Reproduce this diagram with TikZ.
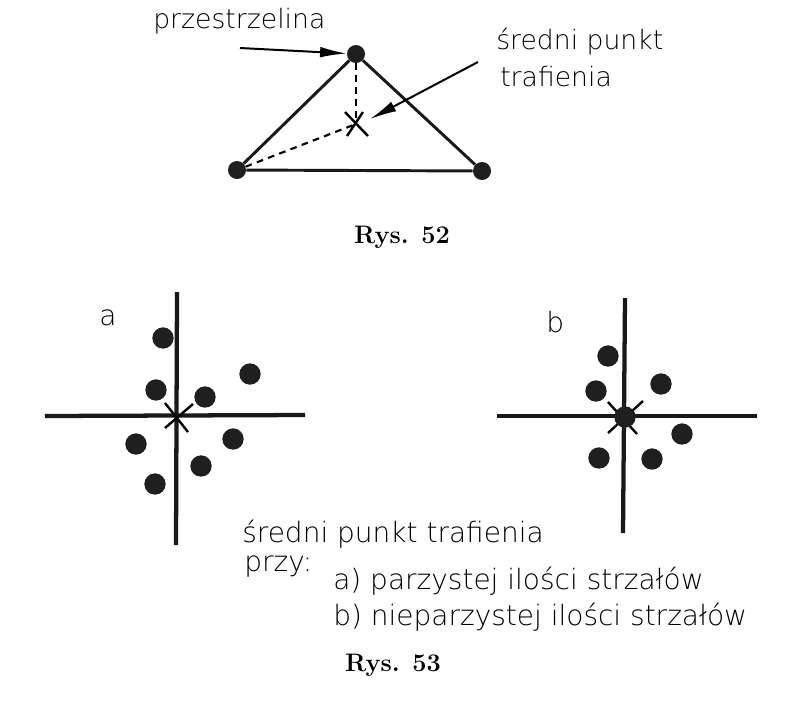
\documentclass[tikz,border=0pt]{standalone}
\usepackage{fontspec}
\newfontfamily\lett{DejaVu Sans}[UprightFont=* ExtraLight]
\usetikzlibrary{arrows.meta,calc}
\begin{document}
\begin{tikzpicture}[x=0.75pt,y=-0.75pt,
  dot/.style={circle,fill=black!88,inner sep=0pt,minimum size=16pt},
  tdot/.style={circle,fill=black!88,inner sep=0pt,minimum size=13.5pt},
  axis/.style={line width=3.2pt,black!90},
  edge/.style={line width=2.2pt,black!90},
  crs/.style={line width=1.8pt,black},
  dsh/.style={line width=1.6pt,dash pattern=on 5pt off 4pt},
  pointer/.style={line width=1.5pt,-{Latex[length=20pt,width=8pt]}},
  lab/.style={font=\lett\fontsize{20}{24}\selectfont,inner sep=0pt,anchor=mid west},
  lab2/.style={font=\lett\fontsize{21}{25}\selectfont,inner sep=0pt,anchor=mid west},
  figcap/.style={font=\bfseries\fontsize{19}{22}\selectfont,inner sep=0pt}]
\useasboundingbox[fill=white] (0,0) rectangle (810,719);

% ---------- Rys. 52 ----------
\node[tdot] (T) at (356,54) {};
\node[tdot] (BL) at (237,170) {};
\node[tdot] (BR) at (482,171) {};
\coordinate (C) at (356,124);
\draw[edge] (BL) -- (T) -- (BR) -- (BL);
\draw[dsh] (T) -- (C);
\draw[dsh] (BL) -- (C);
\draw[crs] ($(C)+(-11,-12)$) -- ($(C)+(12,12)$);
\draw[crs] ($(C)+(7,-12)$) -- ($(C)+(-9,12)$);

\node[lab] (przest) at (153,26) {przestrzelina};
\coordinate (a1) at (240,48);
\draw[pointer] (a1) -- (T);
\node[lab] (spt1) at (496,47) {średni punkt};
\node[lab] (spt2) at (500,84) {trafienia};
\coordinate (a2) at (478,62);
\coordinate (a2e) at (370,119);
\draw[pointer] (a2) -- (a2e);
\node[figcap] (rys52) at (402,237) {Rys. 52};

% ---------- Rys. 53 a ----------
\coordinate (OA) at (177,416);
\coordinate (VAt) at (177,292);
\coordinate (VAb) at (176,545);
\coordinate (HAl) at (45,416);
\coordinate (HAr) at (305,415);
\draw[axis] (VAt) -- (VAb);
\draw[axis] (HAl) -- (HAr);
\draw[crs] ($(OA)+(-12,-13)$) -- ($(OA)+(11,16)$);
\draw[crs] ($(OA)+(16,-12)$) -- ($(OA)+(-12,12)$);
\node[dot] (a_d1) at (163,338) {};
\node[dot] (a_d2) at (250,374) {};
\node[dot] (a_d3) at (156,390) {};
\node[dot] (a_d4) at (205,397) {};
\node[dot] (a_d5) at (136,444) {};
\node[dot] (a_d6) at (233,439) {};
\node[dot] (a_d7) at (201,466) {};
\node[dot] (a_d8) at (155,484) {};
\node[lab2] (la) at (99,323) {a};

% ---------- Rys. 53 b ----------
\coordinate (OB) at (625,417);
\coordinate (VBt) at (625,298);
\coordinate (VBb) at (623,533);
\coordinate (HBl) at (497,416);
\coordinate (HBr) at (757,416);
\draw[axis] (VBt) -- (VBb);
\draw[axis] (HBl) -- (HBr);
\draw[crs] ($(OB)+(-17,-15)$) -- ($(OB)+(12,17)$);
\draw[crs] ($(OB)+(18,-16)$) -- ($(OB)+(-17,16)$);
\node[dot] (b_d0) at (OB) {};
\node[dot] (b_d1) at (608,356) {};
\node[dot] (b_d2) at (596,391) {};
\node[dot] (b_d3) at (661,384) {};
\node[dot] (b_d4) at (682,434) {};
\node[dot] (b_d5) at (599,458) {};
\node[dot] (b_d6) at (652,459) {};
\node[lab2] (lb) at (546,330) {b};

% ---------- legend ----------
\node[lab2] (t1) at (242,540) {średni punkt trafienia};
\node[lab2] (t2) at (244,569) {przy:};
\node[lab2] (t3) at (333,587) {a) parzystej ilości strzałów};
\node[lab2] (t4) at (333,623) {b) nieparzystej ilości strzałów};
\node[figcap] (rys53) at (393,665) {Rys. 53};
\end{tikzpicture}
\end{document}
